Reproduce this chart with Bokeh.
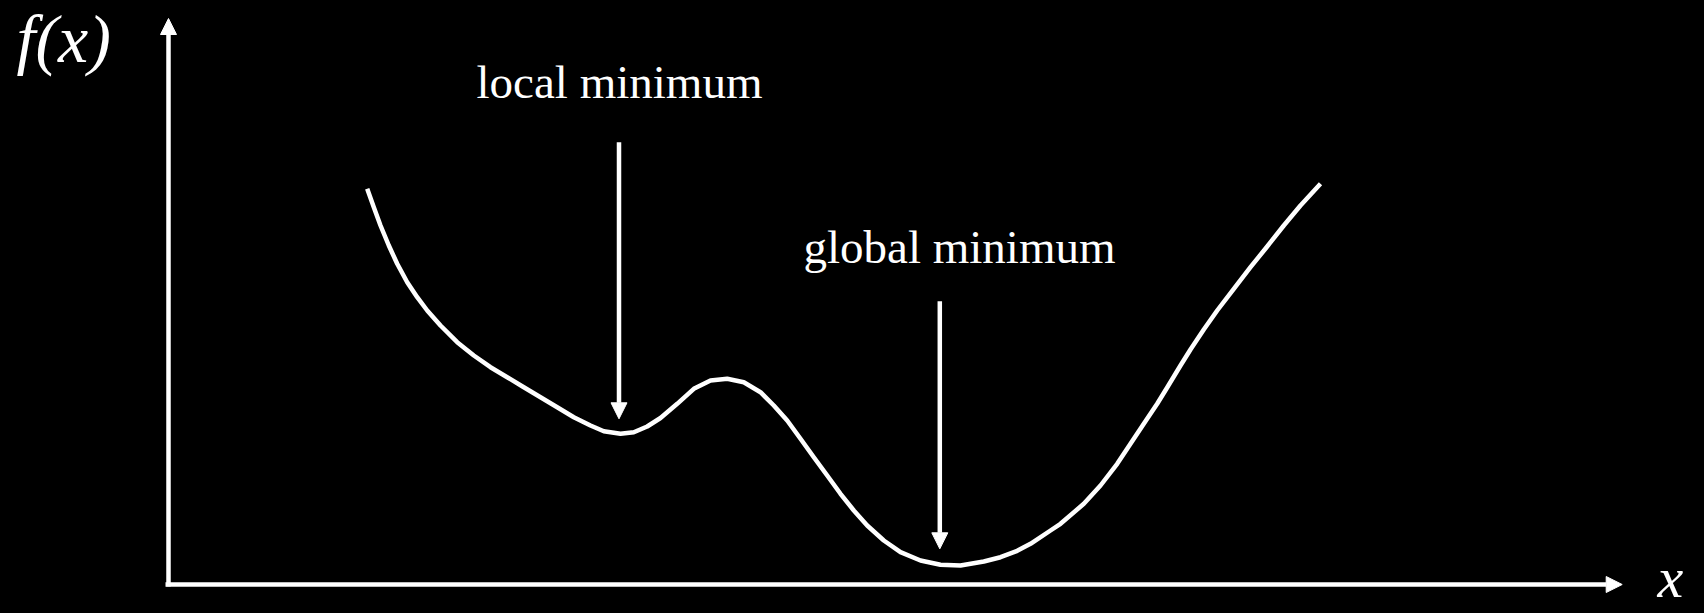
from bokeh.plotting import figure
from bokeh.models import ColumnDataSource, Range1d, Arrow, NormalHead
from bokeh.core.properties import value
from bokeh.embed import file_html
from bokeh.resources import INLINE

# ---- data ----
curve_x = [1.987, 2.053, 2.12, 2.203, 2.287, 2.387, 2.487, 2.587, 2.72, 2.887, 3.053, 3.22,
           3.387, 3.553, 3.72, 3.887, 4.053, 4.22, 4.353, 4.52, 4.653, 4.787, 4.92, 5.087,
           5.253, 5.42, 5.587, 5.753, 5.92, 6.053, 6.187, 6.32, 6.453, 6.587, 6.72, 6.853,
           6.987, 7.153, 7.32, 7.52, 7.72, 7.92, 8.153, 8.32, 8.487, 8.62, 8.82, 8.92,
           9.153, 9.32, 9.487, 9.62, 9.753, 9.887, 9.987, 10.12, 10.22, 10.353, 10.487,
           10.653, 10.82, 10.987, 11.153, 11.32, 11.52]
curve_y = [3.957, 3.773, 3.59, 3.39, 3.207, 3.023, 2.873, 2.74, 2.59, 2.423, 2.29, 2.173,
           2.073, 1.973, 1.873, 1.773, 1.673, 1.59, 1.533, 1.507, 1.523, 1.58, 1.665, 1.807,
           1.957, 2.04, 2.057, 2.023, 1.923, 1.79, 1.64, 1.457, 1.273, 1.09, 0.907, 0.74,
           0.59, 0.44, 0.323, 0.24, 0.197, 0.19, 0.23, 0.273, 0.337, 0.407, 0.54, 0.607,
           0.807, 0.99, 1.207, 1.407, 1.607, 1.807, 1.97, 2.19, 2.35, 2.55, 2.74,
           2.957, 3.173, 3.38, 3.59, 3.79, 4.007]

label_text = ["local minimum", "global minimum"]
label_x = [4.51, 7.91]
label_y = [5.03, 3.377]

pointer_x = [4.505, 7.713]
pointer_top = [4.423, 2.833]
pointer_tip = [1.657, 0.357]

axis_x_end = 14.537
axis_y_end = 5.66

title_text = ["f(x)", "x"]
title_x = [-1.52, 14.89]
title_y = [5.455, 0.068]
title_size = ["68px", "58px"]

WHITE = "#ffffff"
LW = 4.5

p = figure(width=1704, height=613, output_backend="svg", toolbar_location=None,
           x_range=Range1d(-1.68, 15.36), y_range=Range1d(-0.29, 5.84),
           min_border=0, background_fill_color="black", border_fill_color="black",
           outline_line_color=None)
p.axis.visible = False
p.grid.visible = False

def head():
    return NormalHead(size=16, fill_color=WHITE, line_color=WHITE, line_width=1)

# axes as arrows
p.add_layout(Arrow(end=head(), x_start=-0.03, y_start=0, x_end=axis_x_end, y_end=0,
                   line_color=WHITE, line_width=LW))
p.add_layout(Arrow(end=head(), x_start=0, y_start=-0.02, x_end=0, y_end=axis_y_end,
                   line_color=WHITE, line_width=LW))

# curve
src = ColumnDataSource(dict(x=curve_x, y=curve_y))
p.line("x", "y", source=src, line_color=WHITE, line_width=LW, line_join="round")

# pointer arrows
for px, pt, pb in zip(pointer_x, pointer_top, pointer_tip):
    p.add_layout(Arrow(end=head(), x_start=px, y_start=pt, x_end=px, y_end=pb,
                       line_color=WHITE, line_width=LW))

# annotation labels
lsrc = ColumnDataSource(dict(x=label_x, y=label_y, t=label_text))
p.text("x", "y", text="t", source=lsrc, text_color=WHITE,
       text_font=value("Liberation Serif"), text_font_size=value("47px"),
       text_align="center", text_baseline="alphabetic")

# axis titles
tsrc = ColumnDataSource(dict(x=title_x, y=title_y, t=title_text, s=title_size))
p.text("x", "y", text="t", source=tsrc, text_color=WHITE,
       text_font=value("Liberation Serif"), text_font_size="s",
       text_font_style="italic", text_align="left", text_baseline="alphabetic")

html = file_html(p, INLINE)
html = html.replace("<head>", "<head><style>html,body{background:#000;}</style>", 1)
open("out.html", "w").write(html)
